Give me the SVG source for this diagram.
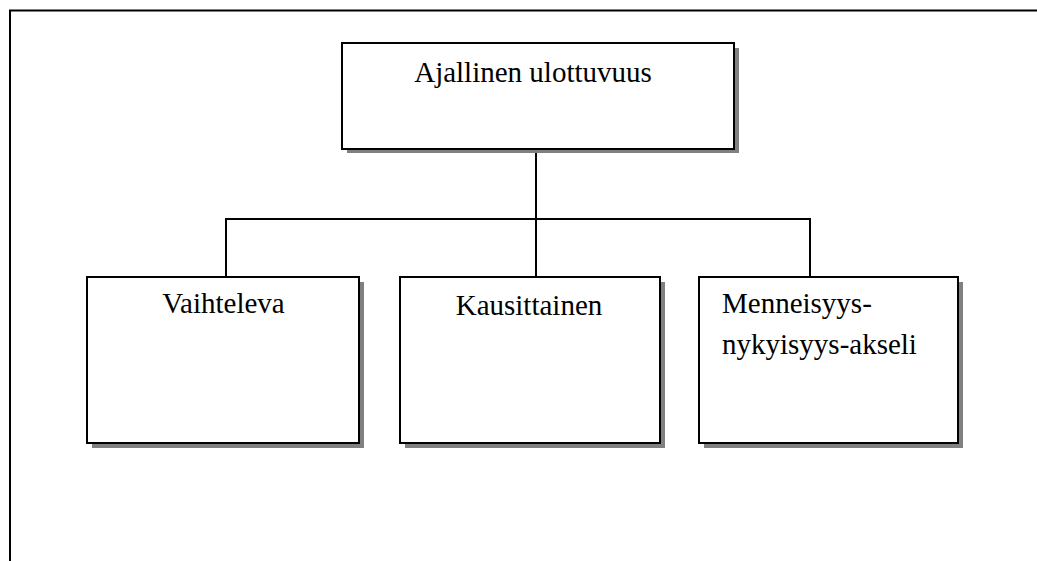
<svg xmlns="http://www.w3.org/2000/svg" width="1037" height="561" viewBox="0 0 1037 561">
<style>
.box{fill:#fff;stroke:#000;stroke-width:2}
.sh{fill:#808080}
.conn{fill:none;stroke:#000;stroke-width:2}
.lbl{font-family:"Liberation Serif","Times New Roman",serif;font-size:29px;fill:#000}
</style>
<rect width="1037" height="561" fill="#fff"/>
<g id="frame"><path d="M10,561 V10.5 H1037" fill="none" stroke="#000" stroke-width="2"/></g>
<g id="connectors">
<path class="conn" d="M536,149 V277"/>
<path class="conn" d="M226,277 V219 H810 V277"/>
</g>
<g id="node-top">
<rect class="sh" x="347" y="48" width="392" height="105"/>
<rect class="box" x="342" y="43" width="392" height="106"/>
<text class="lbl" x="533" y="82" text-anchor="middle">Ajallinen ulottuvuus</text>
</g>
<g id="node-vaihteleva">
<rect class="sh" x="92" y="282" width="272" height="166"/>
<rect class="box" x="87" y="277" width="272" height="166"/>
<text class="lbl" x="223.5" y="313" text-anchor="middle">Vaihteleva</text>
</g>
<g id="node-kausittainen">
<rect class="sh" x="405" y="282" width="260" height="166"/>
<rect class="box" x="400" y="277" width="260" height="166"/>
<text class="lbl" x="529" y="315" text-anchor="middle">Kausittainen</text>
</g>
<g id="node-menneisyys">
<rect class="sh" x="704" y="282" width="259" height="166"/>
<rect class="box" x="699" y="277" width="259" height="166"/>
<text class="lbl" x="722" y="313">Menneisyys-</text>
<text class="lbl" x="722" y="354">nykyisyys-akseli</text>
</g>
</svg>
